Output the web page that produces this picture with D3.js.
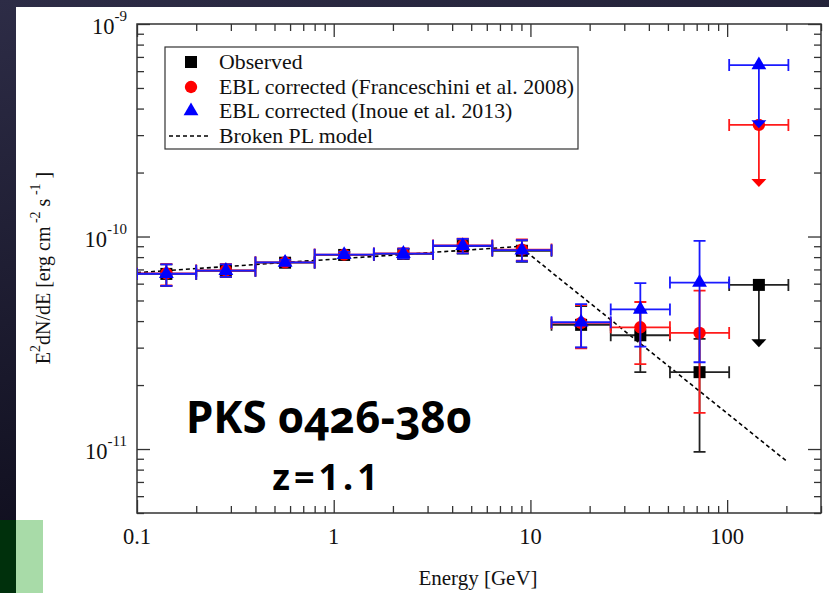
<!DOCTYPE html>
<html>
<head>
<meta charset="utf-8">
<script src="https://cdn.jsdelivr.net/npm/d3@7"></script>
<style>
  html, body { margin: 0; padding: 0; background: #15142a; }
  svg { display: block; }
</style>
</head>
<body>
<div id="chart"></div>
<script>
// energy bins [GeV]
const energy = [0.141, 0.283, 0.566, 1.13, 2.26, 4.53, 9.05, 18.1, 36.2, 72.4, 145];
const eLo = [0.1, 0.2, 0.4, 0.8, 1.6, 3.2, 6.4, 12.8, 25.6, 51.2, 102.4];
const eHi = [0.2, 0.4, 0.8, 1.6, 3.2, 6.4, 12.8, 25.6, 51.2, 102.4, 204.8];

// observed
const obsFlux = [6.67e-11, 6.90e-11, 7.53e-11, 8.19e-11, 8.28e-11, 9.01e-11, 8.57e-11, 3.84e-11, 3.43e-11, 2.30e-11, 5.92e-11];
const obsLo = [5.85e-11, 6.45e-11, 7.31e-11, 7.95e-11, 7.84e-11, 8.30e-11, 7.60e-11, 3.00e-11, 2.30e-11, 9.7e-12, null];
const obsHi = [7.39e-11, 7.39e-11, 7.75e-11, 8.44e-11, 8.74e-11, 9.70e-11, 9.56e-11, 4.70e-11, 4.50e-11, 3.30e-11, null];
const obsUL = [null, null, null, null, null, null, null, null, null, null, 3.01e-11];

// EBL corrected, Franceschini et al. 2008
const franFlux = [6.70e-11, 6.92e-11, 7.56e-11, 8.22e-11, 8.33e-11, 9.08e-11, 8.68e-11, 3.92e-11, 3.74e-11, 3.52e-11, 3.35e-10];
const franLo = [5.88e-11, 6.47e-11, 7.34e-11, 7.98e-11, 7.89e-11, 8.36e-11, 7.70e-11, 2.98e-11, 2.51e-11, 1.48e-11, null];
const franHi = [7.42e-11, 7.41e-11, 7.78e-11, 8.47e-11, 8.79e-11, 9.77e-11, 9.68e-11, 4.76e-11, 4.92e-11, 5.56e-11, null];
const franUL = [null, null, null, null, null, null, null, null, null, null, 1.71e-10];

// EBL corrected, Inoue et al. 2013
const inoFlux = [6.68e-11, 6.91e-11, 7.55e-11, 8.21e-11, 8.31e-11, 9.05e-11, 8.62e-11, 3.95e-11, 4.54e-11, 6.07e-11, 6.41e-10];
const inoLo = [5.86e-11, 6.46e-11, 7.33e-11, 7.97e-11, 7.87e-11, 8.33e-11, 7.65e-11, 3.01e-11, 3.03e-11, 2.56e-11, null];
const inoHi = [7.40e-11, 7.40e-11, 7.77e-11, 8.46e-11, 8.77e-11, 9.74e-11, 9.62e-11, 4.81e-11, 6.03e-11, 9.53e-11, null];
const inoUL = [null, null, null, null, null, null, null, null, null, null, 3.23e-10];

// broken power law model
const modelE = [0.1, 8.8, 200];
const modelF = [6.76e-11, 8.98e-11, 8.79e-12];

const xTicks = [0.1, 1, 10, 100];
const xTickLabels = ["0.1", "1", "10", "100"];
const yTicks = [1e-9, 1e-10, 1e-11];
const yTickExp = ["-9", "-10", "-11"];

const W = 829, H = 593;
const svg = d3.select("#chart").append("svg").attr("width", W).attr("height", H);

// slide background
const grad = svg.append("defs").append("linearGradient")
  .attr("id", "bg").attr("x1", 0).attr("y1", 0).attr("x2", 0.3).attr("y2", 1);
grad.append("stop").attr("offset", 0).attr("stop-color", "#2d2c46");
grad.append("stop").attr("offset", 1).attr("stop-color", "#0b0a18");
svg.append("rect").attr("width", W).attr("height", H).attr("fill", "url(#bg)");
svg.append("rect").attr("x", 16).attr("y", 7).attr("width", W - 16).attr("height", H - 7).attr("fill", "#fff");
svg.append("rect").attr("x", 0).attr("y", 520).attr("width", 16).attr("height", 73).attr("fill", "#00300c");
svg.append("rect").attr("x", 16).attr("y", 520).attr("width", 27).attr("height", 73).attr("fill", "#a8dba8");

const x = d3.scaleLog().domain([0.1, 300]).range([137, 821]);
const y = d3.scaleLog().domain([5e-12, 1e-9]).range([513, 24]);

const axisColor = "#333";
const serif = "'Liberation Serif', 'Times New Roman', serif";

// ticks, inward on all four sides
const xMinor = [];
[0.1, 1, 10, 100].forEach(d => { for (let k = 2; k <= 9; k++) if (d * k <= 300) xMinor.push(d * k); });
const yMinor = [];
[1e-12, 1e-11, 1e-10].forEach(d => { for (let k = 2; k <= 9; k++) if (d * k >= 5e-12) yMinor.push(d * k); });

function tickAxis(gen, scale, vals, size, tr) {
  svg.append("g").attr("transform", tr)
    .call(gen(scale).tickValues(vals).tickSize(size).tickSizeOuter(0).tickFormat(""))
    .call(g => g.select(".domain").remove())
    .call(g => g.selectAll("line").attr("stroke", axisColor).attr("stroke-width", 1.3));
}
tickAxis(d3.axisBottom, x, xTicks, -13, "translate(0,513)");
tickAxis(d3.axisBottom, x, xMinor, -7, "translate(0,513)");
tickAxis(d3.axisTop, x, xTicks, -13, "translate(0,24)");
tickAxis(d3.axisTop, x, xMinor, -7, "translate(0,24)");
tickAxis(d3.axisLeft, y, yTicks, -13, "translate(137,0)");
tickAxis(d3.axisLeft, y, yMinor, -7, "translate(137,0)");
tickAxis(d3.axisRight, y, yTicks, -13, "translate(821,0)");
tickAxis(d3.axisRight, y, yMinor, -7, "translate(821,0)");

svg.append("rect").attr("x", 137).attr("y", 24).attr("width", 821 - 137).attr("height", 513 - 24)
  .attr("fill", "none").attr("stroke", axisColor).attr("stroke-width", 1.5);

// tick labels
svg.append("g").selectAll("text").data(xTicks).join("text")
  .attr("x", d => x(d)).attr("y", 544)
  .attr("text-anchor", "middle").attr("font-family", serif).attr("font-size", 22.5).attr("fill", "#111")
  .text((d, i) => xTickLabels[i]);

const yl = svg.append("g").selectAll("text").data(yTicks).join("text")
  .attr("x", 127).attr("y", d => y(d) + 10)
  .attr("text-anchor", "end").attr("font-family", serif).attr("font-size", 22.5).attr("fill", "#111");
yl.append("tspan").text("10");
yl.append("tspan").attr("dy", -13).attr("font-size", 15).text((d, i) => yTickExp[i]);

// axis titles
svg.append("text").attr("x", 478).attr("y", 585).attr("text-anchor", "middle")
  .attr("font-family", serif).attr("font-size", 21).attr("fill", "#111").text("Energy [GeV]");

const yt = svg.append("text").attr("transform", "translate(50,268) rotate(-90)")
  .attr("text-anchor", "middle").attr("font-family", serif).attr("font-size", 20).attr("fill", "#111");
yt.append("tspan").text("E");
yt.append("tspan").attr("dy", -10).attr("font-size", 14).text("2");
yt.append("tspan").attr("dy", 10).text("dN/dE [erg cm");
yt.append("tspan").attr("dy", -10).attr("font-size", 14).text(" -2");
yt.append("tspan").attr("dy", 10).text(" s");
yt.append("tspan").attr("dy", -10).attr("font-size", 14).text(" -1");
yt.append("tspan").attr("dy", 10).text(" ]");

// model
const clip = svg.select("defs").append("clipPath").attr("id", "plot");
clip.append("rect").attr("x", 137).attr("y", 24).attr("width", 684).attr("height", 489);
const plot = svg.append("g").attr("clip-path", "url(#plot)");

plot.append("path")
  .datum(modelE.map((e, i) => [e, modelF[i]]))
  .attr("d", d3.line().x(d => x(d[0])).y(d => y(d[1])))
  .attr("fill", "none").attr("stroke", "#000").attr("stroke-width", 1.6).attr("stroke-dasharray", "4,3");

// data series
const series = [
  { flux: obsFlux, lo: obsLo, hi: obsHi, ul: obsUL, color: "#000", line: "#222", sym: d3.symbolSquare, size: 144 },
  { flux: franFlux, lo: franLo, hi: franHi, ul: franUL, color: "#ff0000", line: "#ff1a1a", sym: d3.symbolCircle, size: 120 },
  { flux: inoFlux, lo: inoLo, hi: inoHi, ul: inoUL, color: "#0000ff", line: "#1a1aff", sym: d3.symbolTriangle, size: 95 }
];

series.forEach(s => {
  const g = plot.append("g");
  const pts = energy.map((e, i) => ({ e, f: s.flux[i], lo: s.lo[i], hi: s.hi[i], ul: s.ul[i], e0: eLo[i], e1: eHi[i] }));
  const st = sel => sel.attr("stroke", s.line).attr("stroke-width", 1.8).attr("fill", "none");

  // x error bars with end caps
  g.selectAll(".xe").data(pts).join("path").call(st)
    .attr("d", d => `M${x(d.e0)},${y(d.f)}H${x(d.e1)}M${x(d.e0)},${y(d.f) - 6}V${y(d.f) + 6}M${x(d.e1)},${y(d.f) - 6}V${y(d.f) + 6}`);

  // y error bars
  g.selectAll(".ye").data(pts.filter(d => d.lo != null)).join("path").call(st)
    .attr("d", d => `M${x(d.e)},${y(d.hi)}V${y(d.lo)}M${x(d.e) - 6},${y(d.hi)}H${x(d.e) + 6}M${x(d.e) - 6},${y(d.lo)}H${x(d.e) + 6}`);

  // upper limits
  const ulp = pts.filter(d => d.ul != null);
  g.selectAll(".ul").data(ulp).join("path").call(st)
    .attr("d", d => `M${x(d.e)},${y(d.f)}V${y(d.ul) - 6}`);
  g.selectAll(".ah").data(ulp).join("path").attr("fill", s.color)
    .attr("d", d => `M${x(d.e) - 7.5},${y(d.ul) - 8}H${x(d.e) + 7.5}L${x(d.e)},${y(d.ul)}Z`);

  g.selectAll(".m").data(pts).join("path").attr("fill", s.color)
    .attr("transform", d => `translate(${x(d.e)},${y(d.f)})`)
    .attr("d", d3.symbol().type(s.sym).size(s.size));
});

// legend
const lg = svg.append("g");
lg.append("rect").attr("x", 165).attr("y", 47).attr("width", 413).attr("height", 102)
  .attr("fill", "#fff").attr("stroke", axisColor).attr("stroke-width", 1.2);
const legendLabels = ["Observed", "EBL corrected (Franceschini et al. 2008)", "EBL corrected (Inoue et al. 2013)", "Broken PL model"];
const legendY = [62, 87, 111, 136];
series.forEach((s, i) => {
  lg.append("path").attr("transform", `translate(191,${legendY[i]})`).attr("fill", s.color)
    .attr("d", d3.symbol().type(s.sym).size(s.size));
});
lg.append("line").attr("x1", 169).attr("x2", 211).attr("y1", legendY[3]).attr("y2", legendY[3])
  .attr("stroke", "#000").attr("stroke-width", 1.4).attr("stroke-dasharray", "4,3");
lg.selectAll("text").data(legendLabels).join("text")
  .attr("x", 219).attr("y", (d, i) => legendY[i] + 7)
  .attr("font-family", serif).attr("font-size", 21.8).attr("fill", "#111").text(d => d);

// source annotation
svg.append("text").attr("x", 186).attr("y", 433)
  .attr("font-family", "'Noto Sans', sans-serif").attr("font-weight", "bold").attr("font-size", 44)
  .style("font-feature-settings", "'onum' 1").attr("fill", "#000").text("PKS 0426-380");
svg.append("text").attr("x", 327).attr("y", 490).attr("text-anchor", "middle")
  .attr("font-family", "'Noto Sans', sans-serif").attr("font-weight", "bold").attr("font-size", 36)
  .attr("letter-spacing", 4).attr("fill", "#000").text("z=1.1");
</script>
</body>
</html>
